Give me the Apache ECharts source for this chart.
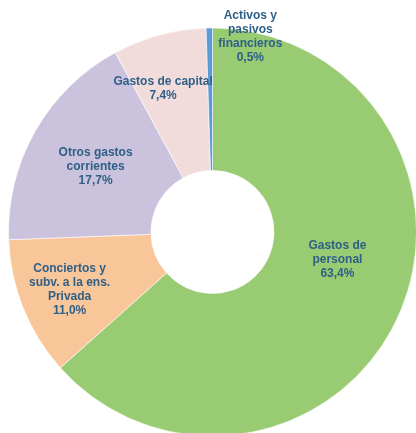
<!DOCTYPE html>
<html><head><meta charset="utf-8">
<script src="https://cdn.jsdelivr.net/npm/echarts@6/dist/echarts.min.js"></script>
<style>html,body{margin:0;padding:0;background:#fff}#c{width:416px;height:433px}</style>
</head><body><div id="c"></div>
<script>
var categories = ['Gastos de\npersonal', 'Conciertos y\nsubv. a la ens.\nPrivada', 'Otros gastos\ncorrientes', 'Gastos de capital', 'Activos y\npasivos\nfinancieros'];
var values = [63.4, 11.0, 17.7, 7.4, 0.5];
var colors = ['#98CB72', '#F9C69A', '#CBC2DD', '#F2DCDB', '#5B9BD5'];
var labelOffsets = [[1, -28], [-17, 7], [1, 2], [-14, -12], [40, -60]];

var data = categories.map(function (c, i) {
  return {
    name: c, value: values[i],
    itemStyle: { color: colors[i] },
    label: { offset: labelOffsets[i] }
  };
});

var chart = echarts.init(document.getElementById('c'));
chart.setOption({
  animation: false,
  series: [{
    type: 'pie',
    center: [212.5, 232],
    radius: [61.5, 204],
    startAngle: 90,
    clockwise: true,
    avoidLabelOverlap: false,
    itemStyle: { borderColor: '#ffffff', borderWidth: 0.6 },
    label: {
      show: true,
      position: 'inside',
      color: '#2F6087',
      fontFamily: 'Liberation Sans, Arial, sans-serif',
      fontWeight: 'bold',
      fontSize: 12,
      lineHeight: 14,
      align: 'center',
      formatter: function (p) {
        return p.name + '\n' + p.value.toFixed(1).replace('.', ',') + '%';
      }
    },
    labelLine: { show: false },
    data: data
  }]
});
</script></body></html>
